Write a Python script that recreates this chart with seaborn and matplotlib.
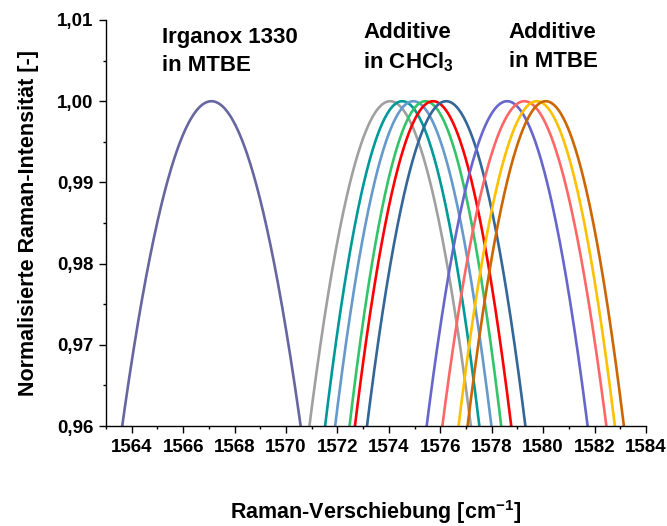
import numpy as np
import pandas as pd
import matplotlib
matplotlib.use("Agg")
import matplotlib.pyplot as plt
import seaborn as sns
from matplotlib.ticker import MultipleLocator, FuncFormatter

# Peak data (Raman shift in cm^-1)
names = ["Irganox 1330 (MTBE)", "CHCl3 1", "CHCl3 2", "CHCl3 3", "CHCl3 4", "CHCl3 5", "CHCl3 6",
         "MTBE 1", "MTBE 2", "MTBE 3", "MTBE 4"]
peak_pos = [1567.10, 1574.05, 1574.52, 1574.95, 1575.42, 1575.72, 1576.23,
            1578.60, 1579.27, 1579.75, 1580.10]
# half width of each peak at normalised intensity 0.96
half_width_096 = [3.47, 3.14, 3.00, 3.04, 2.95, 3.04, 3.08, 3.13, 3.19, 3.04, 3.04]
peak_max = [1.00] * 11
colors = ["#6666A0", "#A0A0A0", "#009999", "#6699CC", "#33C46A", "#FF0000", "#336699",
          "#6666CC", "#FF6666", "#FFC000", "#CC6600"]

x_ticks = [1564, 1566, 1568, 1570, 1572, 1574, 1576, 1578, 1580, 1582, 1584]
y_ticks = [0.96, 0.97, 0.98, 0.99, 1.00, 1.01]

# Gaussian band shape through the read peak position and width
rows = []
for n, c, hw, pm in zip(names, peak_pos, half_width_096, peak_max):
    sigma = hw / np.sqrt(-2 * np.log(0.96 / pm))
    xs = np.linspace(c - 1.08 * hw, c + 1.08 * hw, 300)
    ys = pm * np.exp(-(xs - c) ** 2 / (2 * sigma ** 2))
    rows.append(pd.DataFrame({"x": xs, "y": ys, "Probe": n}))
df = pd.concat(rows, ignore_index=True)

sns.set_theme(style="ticks")
plt.rcParams["font.family"] = ["Liberation Sans", "DejaVu Sans"]
plt.rcParams["font.weight"] = "bold"
plt.rcParams["text.color"] = "black"
plt.rcParams["axes.labelcolor"] = "black"
plt.rcParams["xtick.color"] = "black"
plt.rcParams["ytick.color"] = "black"
plt.rcParams["mathtext.fontset"] = "custom"
plt.rcParams["mathtext.rm"] = "Liberation Sans:bold"
plt.rcParams["mathtext.bf"] = "Liberation Sans:bold"
plt.rcParams["mathtext.it"] = "Liberation Sans:bold"
plt.rcParams["mathtext.default"] = "bf"

fig = plt.figure(figsize=(6.67, 5.26), dpi=100)
ax = fig.add_axes([106 / 667, 1 - 426 / 526, 540 / 667, 406 / 526])

sns.lineplot(data=df, x="x", y="y", hue="Probe", palette=colors, hue_order=names,
             estimator=None, sort=False, legend=False, linewidth=1.9, ax=ax)

ax.set_xlim(1563, 1584)
ax.set_ylim(0.96, 1.01)
ax.set_xticks(x_ticks)
ax.set_yticks(y_ticks)
ax.xaxis.set_minor_locator(MultipleLocator(1))
ax.yaxis.set_minor_locator(MultipleLocator(0.005))
ax.yaxis.set_major_formatter(FuncFormatter(lambda v, p: f"{v:.2f}".replace(".", ",")))
ax.xaxis.set_major_formatter(FuncFormatter(lambda v, p: f"{v:.0f}"))

ax.tick_params(axis="both", which="major", direction="out", length=5, width=1.0,
               labelsize=13.5, pad=4, color="black", labelcolor="black")
ax.tick_params(axis="both", which="minor", direction="out", length=2.5, width=1.0, color="black")
for lab in ax.get_xticklabels() + ax.get_yticklabels():
    lab.set_fontweight("bold")

for s in ["top", "right"]:
    ax.spines[s].set_visible(False)
for s in ["left", "bottom"]:
    ax.spines[s].set_color("black")
    ax.spines[s].set_linewidth(1.0)

ax.set_xlabel("Raman-Verschiebung [cm$^{-1}$]", fontsize=15.5, fontweight="bold",
              labelpad=31, color="black")
ax.set_ylabel("Normalisierte Raman-Intensität [-]", fontsize=15.5, fontweight="bold",
              labelpad=13, color="black")

fs = 16
ax.text(0.104, 0.956, "Irganox 1330", transform=ax.transAxes, fontsize=fs,
        fontweight="bold", va="center", ha="left", color="black")
ax.text(0.104, 0.887, "in MTBE", transform=ax.transAxes, fontsize=fs,
        fontweight="bold", va="center", ha="left", color="black")
ax.text(0.476, 0.968, "Additive", transform=ax.transAxes, fontsize=fs,
        fontweight="bold", va="center", ha="left", color="black")
ax.text(0.476, 0.897, "in CHCl$_{3}$", transform=ax.transAxes, fontsize=fs,
        fontweight="bold", va="center", ha="left", color="black")
ax.text(0.746, 0.968, "Additive", transform=ax.transAxes, fontsize=fs,
        fontweight="bold", va="center", ha="left", color="black")
ax.text(0.746, 0.897, "in MTBE", transform=ax.transAxes, fontsize=fs,
        fontweight="bold", va="center", ha="left", color="black")

fig.savefig("out.png", dpi=100)
